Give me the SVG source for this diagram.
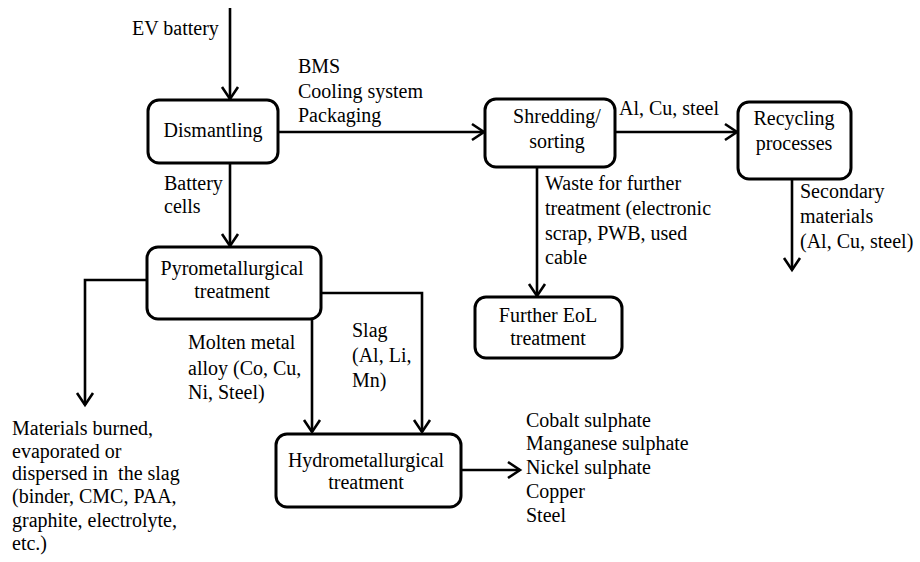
<svg xmlns="http://www.w3.org/2000/svg" width="920" height="562" viewBox="0 0 920 562" font-family="'Liberation Serif', 'Times New Roman', serif" font-size="20">
<defs>
<marker id="ah" markerUnits="userSpaceOnUse" markerWidth="30" markerHeight="30" refX="0" refY="0" viewBox="-15 -15 30 30" orient="auto" overflow="visible">
<path d="M-12,-8 L0,0 L-12,8" fill="none" stroke="#000" stroke-width="2.6" stroke-linejoin="miter"/>
</marker>
</defs>
<style>
text{font-family:'Liberation Serif','Times New Roman',serif;font-size:20px;fill:#000}
.c{text-anchor:middle}
.box{fill:#fff;stroke:#000;stroke-width:3}
.ln{fill:none;stroke:#000;stroke-width:2.6}
.ar{marker-end:url(#ah)}
</style>
<rect width="920" height="562" fill="#fff"/>
<g id="connectors">
<path class="ln ar" d="M230,8 L230,99"/>
<path class="ln ar" d="M278,132 L484,132"/>
<path class="ln ar" d="M615,132 L737,132"/>
<path class="ln ar" d="M792,179 L792,270"/>
<path class="ln ar" d="M537,167 L537,296"/>
<path class="ln ar" d="M230,163 L230,246"/>
<path class="ln ar" d="M147,280 L85,280 L85,405"/>
<path class="ln ar" d="M321,293 L422,293 L422,432"/>
<path class="ln ar" d="M312,319 L312,432"/>
<path class="ln ar" d="M461,470 L520,470"/>
<text x="132" y="35">EV battery</text>
<text x="298" y="73">BMS</text>
<text x="298" y="98">Cooling system</text>
<text x="298" y="122">Packaging</text>
<text x="619" y="115">Al, Cu, steel</text>
<text x="800" y="198">Secondary</text>
<text x="800" y="223">materials</text>
<text x="800" y="248">(Al, Cu, steel)</text>
<text x="545" y="190">Waste for further</text>
<text x="545" y="215">treatment (electronic</text>
<text x="545" y="240">scrap, PWB, used</text>
<text x="545" y="264">cable</text>
<text x="164" y="190">Battery</text>
<text x="164" y="213">cells</text>
<text x="352" y="337">Slag</text>
<text x="352" y="362">(Al, Li,</text>
<text x="352" y="387">Mn)</text>
<text x="188" y="349">Molten metal</text>
<text x="188" y="375">alloy (Co, Cu,</text>
<text x="188" y="399">Ni, Steel)</text>
<text x="526" y="427">Cobalt sulphate</text>
<text x="526" y="450">Manganese sulphate</text>
<text x="526" y="474">Nickel sulphate</text>
<text x="526" y="498">Copper</text>
<text x="526" y="522">Steel</text>
<text x="12" y="435">Materials burned,</text>
<text x="12" y="458">evaporated or</text>
<text x="12" y="480" xml:space="preserve">dispersed in  the slag</text>
<text x="12" y="503">(binder, CMC, PAA,</text>
<text x="12" y="527">graphite, electrolyte,</text>
<text x="12" y="550">etc.)</text>
</g>
<g id="dismantling">
<rect class="box" x="148" y="100" width="130" height="63" rx="11"/>
<text class="c" x="213" y="137">Dismantling</text>
</g>
<g id="shredding">
<rect class="box" x="485" y="99" width="130" height="68" rx="11"/>
<text class="c" x="557" y="123">Shredding/</text>
<text class="c" x="557" y="148">sorting</text>
</g>
<g id="recycling">
<rect class="box" x="738" y="102" width="113" height="77" rx="11"/>
<text class="c" x="794" y="125">Recycling</text>
<text class="c" x="794" y="150">processes</text>
</g>
<g id="further">
<rect class="box" x="475" y="297" width="147" height="61" rx="11"/>
<text class="c" x="548" y="322">Further EoL</text>
<text class="c" x="548" y="345">treatment</text>
</g>
<g id="pyro">
<rect class="box" x="147" y="247" width="174" height="72" rx="11"/>
<text class="c" x="232" y="275">Pyrometallurgical</text>
<text class="c" x="232" y="298">treatment</text>
</g>
<g id="hydro">
<rect class="box" x="276" y="434" width="185" height="73" rx="11"/>
<text class="c" x="366" y="467">Hydrometallurgical</text>
<text class="c" x="366" y="489">treatment</text>
</g>
</svg>
